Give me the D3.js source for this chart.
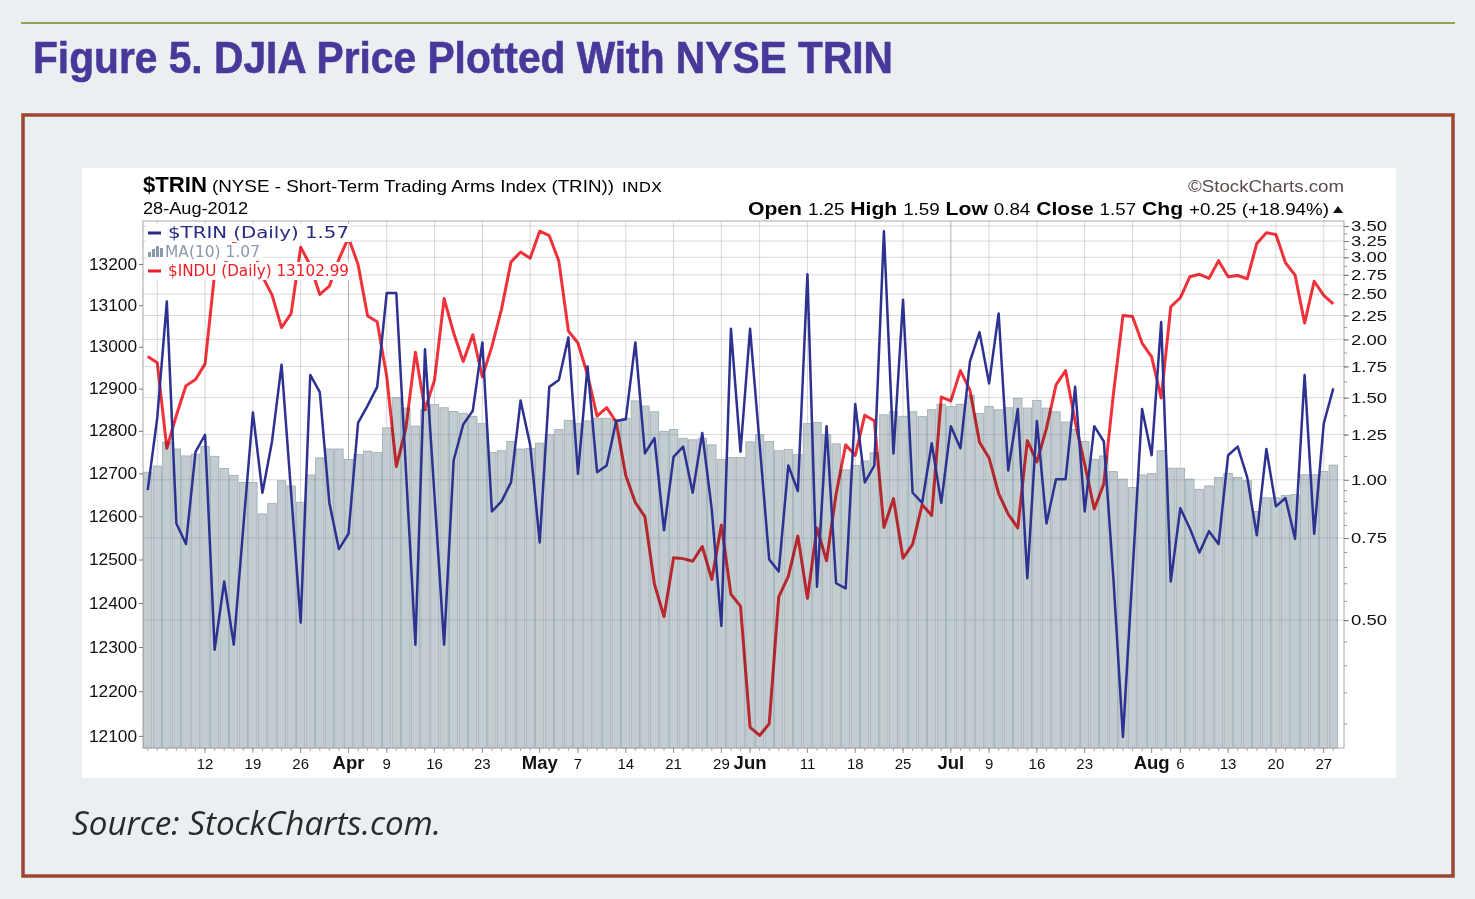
<!DOCTYPE html>
<html>
<head>
<meta charset="utf-8">
<script src="https://cdn.jsdelivr.net/npm/d3@7/dist/d3.min.js"></script>
<style>
  body { margin: 0; background: #eaeff2; }
  svg { display: block; }
</style>
</head>
<body>
<div id="chart"></div>
<script>
// trading days on the chart (2012), per month
const marDays = [2,5,6,7,8,9,12,13,14,15,16,19,20,21,22,23,26,27,28,29,30];
const aprDays = [2,3,4,5,9,10,11,12,13,16,17,18,19,20,23,24,25,26,27,30];
const mayDays = [1,2,3,4,7,8,9,10,11,14,15,16,17,18,21,22,23,24,25,29,30,31];
const junDays = [1,4,5,6,7,8,11,12,13,14,15,18,19,20,21,22,25,26,27,28,29];
const julDays = [2,3,5,6,9,10,11,12,13,16,17,18,19,20,23,24,25,26,27,30,31];
const augDays = [1,2,3,6,7,8,9,10,13,14,15,16,17,20,21,22,23,24,27,28];

// $TRIN daily close
const trinClose = [
  0.95, 1.359, 2.41, 0.806, 0.728, 1.148, 1.249, 0.432, 0.605, 0.443,
  0.792, 1.394, 0.938, 1.208, 1.765, 0.938, 0.494, 1.678, 1.542, 0.892,
  0.710, 0.766, 1.325, 1.442, 1.582, 2.515, 2.515, 1.055, 0.443, 1.904,
  0.922, 0.443, 1.101, 1.314, 1.406, 1.970, 0.855, 0.899, 0.987, 1.479,
  1.188, 0.734, 1.582, 1.636, 2.020, 1.029, 1.750, 1.038, 1.073, 1.337,
  1.348, 1.970, 1.139, 1.228, 0.779, 1.120, 1.178, 0.938, 1.260, 0.862,
  0.486, 2.107, 1.148, 2.107, 1.192, 0.675, 0.636, 1.073, 0.946, 2.760,
  0.590, 1.303, 0.600, 0.585, 1.454, 0.987, 1.073, 3.410, 1.139, 2.432,
  0.938, 0.892, 1.198, 0.892, 1.303, 1.168, 1.795, 2.072, 1.609, 2.273,
  1.047, 1.418, 0.615, 1.337, 0.806, 1.003, 1.003, 1.582, 0.855, 1.303,
  1.208, 0.615, 0.281, 0.631, 1.418, 1.129, 2.180, 0.605, 0.869, 0.786,
  0.698, 0.776, 0.728, 1.129, 1.178, 1.012, 0.760, 1.164, 0.877, 0.914,
  0.747, 1.678, 0.766, 1.320, 1.570
];

// MA(10) of $TRIN (bars)
const trinMA10 = [
  1.038, 1.070, 1.204, 1.164, 1.125, 1.135, 1.178, 1.123, 1.057, 1.022,
  0.987, 0.987, 0.845, 0.889, 0.995, 0.970, 0.895, 1.024, 1.114, 1.164,
  1.164, 1.105, 1.133, 1.152, 1.144, 1.292, 1.499, 1.425, 1.303, 1.413,
  1.449, 1.427, 1.401, 1.389, 1.366, 1.319, 1.144, 1.154, 1.208, 1.164,
  1.168, 1.198, 1.249, 1.281, 1.341, 1.319, 1.337, 1.355, 1.355, 1.348,
  1.355, 1.476, 1.439, 1.399, 1.271, 1.281, 1.228, 1.218, 1.228, 1.188,
  1.105, 1.116, 1.116, 1.206, 1.249, 1.208, 1.154, 1.162, 1.133, 1.319,
  1.327, 1.249, 1.194, 1.050, 1.073, 1.097, 1.142, 1.378, 1.399, 1.368,
  1.399, 1.366, 1.413, 1.452, 1.435, 1.452, 1.519, 1.387, 1.437, 1.413,
  1.427, 1.494, 1.425, 1.479, 1.425, 1.399, 1.330, 1.281, 1.208, 1.105,
  1.125, 1.041, 1.003, 0.962, 1.024, 1.031, 1.154, 1.059, 1.059, 1.003,
  0.954, 0.970, 1.012, 1.031, 1.012, 0.995, 0.855, 0.915, 0.915, 0.925,
  0.929, 1.025, 1.025, 1.042, 1.075
];

// $INDU daily close
const induClose = [
  12977, 12962, 12759, 12837, 12907, 12922, 12959, 13177, 13194, 13253,
  13233, 13239, 13170, 13125, 13046, 13080, 13241, 13197, 13126, 13146,
  13212, 13264, 13199, 13074, 13060, 12929, 12716, 12806, 12987, 12850,
  12921, 13116, 13033, 12965, 13029, 12928, 13001, 13090, 13205, 13229,
  13214, 13280, 13269, 13207, 13038, 13009, 12933, 12835, 12855, 12821,
  12695, 12632, 12599, 12443, 12369, 12504, 12502, 12496, 12530, 12454,
  12580, 12420, 12393, 12119, 12101, 12127, 12414, 12461, 12554, 12411,
  12573, 12497, 12652, 12767, 12742, 12837, 12824, 12574, 12641, 12503,
  12535, 12627, 12602, 12880, 12871, 12943, 12896, 12773, 12736, 12653,
  12605, 12573, 12777, 12727, 12806, 12909, 12943, 12822, 12721, 12617,
  12676, 12887, 13075, 13073, 13009, 12976, 12878, 13096, 13118, 13169,
  13175, 13165, 13208, 13169, 13172, 13164, 13250, 13276, 13272, 13203,
  13173, 13057, 13158, 13124, 13102.99
];

const tickDates  = ['2012-03-12','2012-03-19','2012-03-26','2012-04-02','2012-04-09','2012-04-16','2012-04-23',
                    '2012-05-01','2012-05-07','2012-05-14','2012-05-21','2012-05-29','2012-06-01','2012-06-11',
                    '2012-06-18','2012-06-25','2012-07-02','2012-07-09','2012-07-16','2012-07-23','2012-08-01',
                    '2012-08-06','2012-08-13','2012-08-20','2012-08-27'];
const tickLabels = ['12','19','26','Apr','9','16','23','May','7','14','21','29','Jun','11',
                    '18','25','Jul','9','16','23','Aug','6','13','20','27'];
const monthStarts = ['2012-04-02','2012-05-01','2012-06-01','2012-07-02','2012-08-01'];

const induTicks = [12100,12200,12300,12400,12500,12600,12700,12800,12900,13000,13100,13200];
const trinTicks = [0.50,0.75,1.00,1.25,1.50,1.75,2.00,2.25,2.50,2.75,3.00,3.25,3.50];

const pad2 = n => String(n).padStart(2, '0');
const dates = [].concat(
  marDays.map(d => '2012-03-' + pad2(d)),
  aprDays.map(d => '2012-04-' + pad2(d)),
  mayDays.map(d => '2012-05-' + pad2(d)),
  junDays.map(d => '2012-06-' + pad2(d)),
  julDays.map(d => '2012-07-' + pad2(d)),
  augDays.map(d => '2012-08-' + pad2(d))
);
const rows = dates.map((d, i) => ({ date: d, trin: trinClose[i], ma: trinMA10[i], indu: induClose[i] }));

const W = 1475, H = 899;
const plot = { left: 143, right: 1344, top: 221, bottom: 748 };

const svg = d3.select('#chart').append('svg')
  .attr('width', W)
  .attr('height', H)
  .style('background', '#eaeff2');

// page furniture
svg.append('line')
  .attr('x1', 21).attr('x2', 1455).attr('y1', 23).attr('y2', 23)
  .attr('stroke', '#8fa35a').attr('stroke-width', 2);

svg.append('text')
  .attr('x', 33).attr('y', 73)
  .attr('textLength', 860).attr('lengthAdjust', 'spacingAndGlyphs')
  .style('font-family', '"Liberation Sans Narrow", "Liberation Sans", Arial, sans-serif')
  .style('font-weight', 'bold').style('font-size', '45px')
  .style('fill', '#48389a')
  .style('stroke', '#48389a').style('stroke-width', 0.6)
  .text('Figure 5. DJIA Price Plotted With NYSE TRIN');

svg.append('rect')
  .attr('x', 23).attr('y', 115).attr('width', 1430).attr('height', 761)
  .attr('fill', 'none').attr('stroke', '#9e4632').attr('stroke-width', 3.5);

svg.append('rect')
  .attr('x', 82).attr('y', 168).attr('width', 1314).attr('height', 610)
  .attr('fill', '#ffffff');

svg.append('text')
  .attr('x', 72).attr('y', 835)
  .attr('textLength', 369).attr('lengthAdjust', 'spacingAndGlyphs')
  .style('font-family', '"Open Sans", "Noto Sans", sans-serif')
  .style('font-style', 'italic').style('font-size', '33px')
  .style('fill', '#2a2a2a')
  .text('Source: StockCharts.com.');

// scales
let x = d3.scaleBand()
  .domain(dates)
  .range([143.5, 1337.5])
  .paddingInner(0.12);
const cx = d => x(d) + x.bandwidth() / 2;

let yIndu = d3.scaleLog()
  .domain([12073, 13305])
  .range([plot.bottom, plot.top]);

let yTrin = d3.scaleLog()
  .domain([0.266, 3.588])
  .range([plot.bottom, plot.top]);

// chart header
const font = '"Liberation Sans", Arial, sans-serif';
svg.append('text').attr('x', 143).attr('y', 192)
  .attr('textLength', 64).attr('lengthAdjust', 'spacingAndGlyphs')
  .style('font-family', font).style('font-weight', 'bold').style('font-size', '22px')
  .text('$TRIN');
svg.append('text').attr('x', 212).attr('y', 192)
  .attr('textLength', 402).attr('lengthAdjust', 'spacingAndGlyphs')
  .style('font-family', font).style('font-size', '17px')
  .text('(NYSE - Short-Term Trading Arms Index (TRIN))');
svg.append('text').attr('x', 622).attr('y', 192)
  .attr('textLength', 40).attr('lengthAdjust', 'spacingAndGlyphs')
  .style('font-family', '"DejaVu Sans", sans-serif').style('font-size', '14px')
  .text('INDX');
svg.append('text').attr('x', 143).attr('y', 214)
  .attr('textLength', 105).attr('lengthAdjust', 'spacingAndGlyphs')
  .style('font-family', font).style('font-size', '16px')
  .text('28-Aug-2012');
svg.append('text').attr('x', 1344).attr('y', 192)
  .attr('text-anchor', 'end')
  .attr('textLength', 156).attr('lengthAdjust', 'spacingAndGlyphs')
  .style('font-family', font).style('font-size', '17px').style('fill', '#5d4a4a')
  .text('\u00a9StockCharts.com');

const ohlc = [['Open', '1.25'], ['High', '1.59'], ['Low', '0.84'], ['Close', '1.57'], ['Chg', '+0.25 (+18.94%)']];
const ohlcText = svg.append('text').attr('x', 1329).attr('y', 215)
  .attr('text-anchor', 'end')
  .attr('textLength', 581).attr('lengthAdjust', 'spacingAndGlyphs')
  .style('font-family', font).style('font-size', '16px');
ohlc.forEach(([k, v], i) => {
  ohlcText.append('tspan').style('font-weight', 'bold').style('font-size', '18px')
    .text((i ? '  ' : '') + k + ' ');
  ohlcText.append('tspan').text(v);
});
svg.append('path')
  .attr('d', 'M1333,213 L1343,213 L1338,206 Z')
  .attr('fill', '#111');

// grid
const weekStarts = dates.filter((d, i) => i > 0 && (new Date(d) - new Date(dates[i - 1])) / 864e5 > 2);
const gridG = svg.append('g');
gridG.selectAll('line.vgrid')
  .data(weekStarts)
  .enter().append('line')
  .attr('class', 'vgrid')
  .attr('x1', d => cx(d)).attr('x2', d => cx(d))
  .attr('y1', plot.top).attr('y2', plot.bottom)
  .attr('stroke', d => monthStarts.includes(d) ? '#b4b4b4' : '#d9d9d9')
  .attr('stroke-width', 1);

// MA(10) bars
svg.append('g').selectAll('rect')
  .data(rows)
  .enter().append('rect')
  .attr('x', d => x(d.date))
  .attr('width', x.bandwidth())
  .attr('y', d => yTrin(d.ma))
  .attr('height', d => plot.bottom - yTrin(d.ma))
  .attr('fill', '#c3ccce')
  .attr('stroke', '#9aaab4')
  .attr('stroke-width', 0.8);

// horizontal grid at TRIN levels, over the bars
svg.append('g').selectAll('line')
  .data(trinTicks)
  .enter().append('line')
  .attr('x1', plot.left).attr('x2', plot.right)
  .attr('y1', d => yTrin(d)).attr('y2', d => yTrin(d))
  .attr('stroke', '#6f7f8c').attr('stroke-opacity', 0.28);

// $INDU line
svg.append('path')
  .datum(rows)
  .attr('fill', 'none')
  .attr('stroke', '#f2323a')
  .attr('stroke-width', 3)
  .attr('stroke-linejoin', 'round')
  .style('mix-blend-mode', 'multiply')
  .attr('d', d3.line().x(d => cx(d.date)).y(d => yIndu(d.indu)));

// $TRIN line
svg.append('path')
  .datum(rows)
  .attr('fill', 'none')
  .attr('stroke', '#2d3190')
  .attr('stroke-width', 2.5)
  .attr('stroke-linejoin', 'round')
  .attr('d', d3.line().x(d => cx(d.date)).y(d => yTrin(d.trin)));

// plot frame
svg.append('rect')
  .attr('x', plot.left).attr('y', plot.top)
  .attr('width', plot.right - plot.left).attr('height', plot.bottom - plot.top)
  .attr('fill', 'none').attr('stroke', '#a8a8a8');

// legend
const legendFont = '"DejaVu Sans", Verdana, sans-serif';
const legend = [
  { y: 238, w: 202, color: '#262a80', text: '$TRIN (Daily) 1.57' },
  { y: 257, w: 114, color: '#8a99ab', text: 'MA(10) 1.07' },
  { y: 276, w: 202, color: '#f01c24', text: '$INDU (Daily) 13102.99' }
];
legend.forEach(l => {
  svg.append('rect')
    .attr('x', 146).attr('y', l.y - 14).attr('width', l.w + 3).attr('height', 18)
    .attr('fill', '#fff');
});
legend.forEach((l, i) => {
  if (i === 1) {
    [5, 8, 11, 9].forEach((h, k) => {
      svg.append('rect')
        .attr('x', 148 + k * 4).attr('y', l.y - h).attr('width', 3).attr('height', h)
        .attr('fill', l.color);
    });
  } else {
    svg.append('line')
      .attr('x1', 148).attr('x2', 161).attr('y1', l.y - 5).attr('y2', l.y - 5)
      .attr('stroke', l.color).attr('stroke-width', 3);
  }
  svg.append('text')
    .attr('x', i === 1 ? 165 : 168).attr('y', l.y)
    .attr('textLength', i === 1 ? 95 : 181).attr('lengthAdjust', 'spacingAndGlyphs')
    .style('font-family', legendFont).style('font-size', '15.5px')
    .style('fill', l.color)
    .text(l.text);
});

// axes
const axisText = (size, len) => sel => sel.selectAll('text')
  .attr('textLength', len).attr('lengthAdjust', 'spacingAndGlyphs')
  .style('font-family', font).style('font-size', size).style('fill', '#111');

svg.append('g')
  .attr('transform', `translate(${plot.left},0)`)
  .call(d3.axisLeft(yIndu).tickValues(induTicks).tickFormat(d3.format('d')).tickSize(4).tickPadding(2))
  .call(g => g.select('.domain').remove())
  .call(g => g.selectAll('line').attr('stroke', '#777'))
  .call(axisText('16px', 48));

const minorTrin = d3.range(0.30, 1.0, 0.05).concat(d3.range(1.125, 3.5, 0.125));
svg.append('g')
  .attr('transform', `translate(${plot.right},0)`)
  .call(d3.axisRight(yTrin).tickValues(minorTrin).tickFormat('').tickSize(3))
  .call(g => g.select('.domain').remove())
  .call(g => g.selectAll('line').attr('stroke', '#999'));

svg.append('g')
  .attr('transform', `translate(${plot.right},0)`)
  .call(d3.axisRight(yTrin).tickValues(trinTicks).tickFormat(d3.format('.2f')).tickSize(5).tickPadding(2))
  .call(g => g.select('.domain').remove())
  .call(g => g.selectAll('line').attr('stroke', '#777'))
  .call(axisText('14.5px', 36));

svg.append('g')
  .attr('transform', `translate(0,${plot.bottom})`)
  .call(d3.axisBottom(x).tickValues(dates).tickFormat('').tickSize(3))
  .call(g => g.select('.domain').remove())
  .call(g => g.selectAll('line').attr('stroke', '#aaa'));

const isMonth = d => monthStarts.includes(d);
svg.append('g')
  .attr('transform', `translate(0,${plot.bottom})`)
  .call(d3.axisBottom(x).tickValues(tickDates).tickFormat(d => tickLabels[tickDates.indexOf(d)]).tickSize(5))
  .call(g => g.select('.domain').remove())
  .call(g => g.selectAll('line').attr('stroke', '#999'))
  .call(g => g.selectAll('text')
    .attr('y', d => isMonth(d) ? 8 : 10)
    .style('font-family', font)
    .style('font-weight', d => isMonth(d) ? 'bold' : 'normal')
    .style('font-size', d => isMonth(d) ? '18.5px' : '15px')
    .style('fill', '#111'));
</script>
</body>
</html>
